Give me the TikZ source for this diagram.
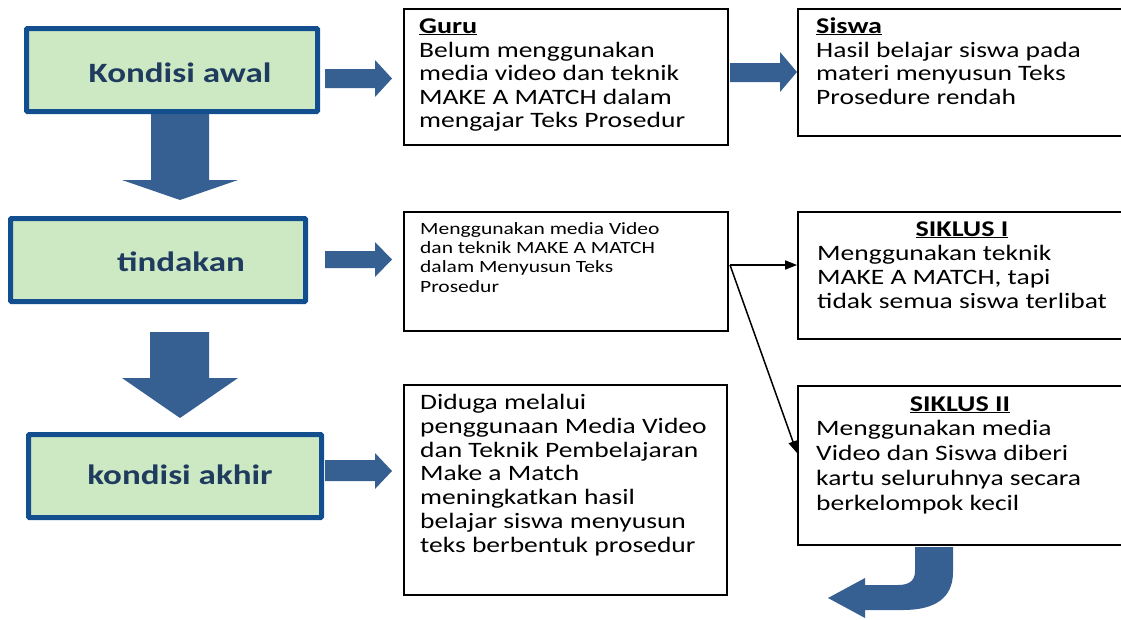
\documentclass[tikz,border=0pt]{standalone}
\usepackage{fontspec}
\setmainfont{Carlito}[FakeStretch=1.25]
\usetikzlibrary{arrows.meta}
\definecolor{boxgreen}{RGB}{205,233,196}
\definecolor{boxblue}{RGB}{19,79,142}
\definecolor{labelblue}{RGB}{31,59,94}
\definecolor{arrowblue}{RGB}{55,96,146}
\begin{document}
\begin{tikzpicture}[x=1pt,y=-1pt,
  stagebox/.style={draw=boxblue,fill=boxgreen,line width=5pt,inner sep=0pt,rounded corners=1pt},
  textbox/.style={draw=black,line width=1.8pt,inner sep=0pt},
  stagelabel/.style={text=labelblue,font={\fontsize{28}{30}\selectfont\bfseries},inner sep=0pt,anchor=base},
  boxtitle/.style={font={\fontsize{22.5}{24}\selectfont\bfseries},inner sep=0pt,anchor=base},
  boxbody/.style={font={\fontsize{22}{23.5}\selectfont},inner sep=0pt,anchor=base west,align=left},
  smallbody/.style={font={\fontsize{17.2}{19.2}\selectfont},inner sep=0pt,anchor=base west,align=left},
  blockarrow/.style={fill=arrowblue,draw=none},
  thinarrow/.style={draw=black,line width=1.5pt,-{Triangle[length=12pt,width=9pt]}}
]
\useasboundingbox (0,0) rectangle (1121,619);

% stage boxes
\node[stagebox,minimum width=291pt,minimum height=83pt] (k1) at (172,70) {};
\node[stagebox,minimum width=295pt,minimum height=83pt] (k2) at (158,260) {};
\node[stagebox,minimum width=293pt,minimum height=83pt] (k3) at (175,476) {};
\node[stagelabel] (k1t) at (180,82) {Kondisi awal};
\node[stagelabel] (k2t) at (181,271) {tindakan};
\node[stagelabel] (k3t) at (180,484) {kondisi akhir};

% text boxes
\node[textbox,minimum width=324pt,minimum height=136pt] (guru) at (566,77) {};
\node[textbox,minimum width=324pt,minimum height=127.5pt] (siswa) at (960,72.5) {};
\node[textbox,minimum width=324pt,minimum height=119pt] (mid) at (566,271.5) {};
\node[textbox,minimum width=324pt,minimum height=127pt] (s1) at (960,275.5) {};
\node[textbox,minimum width=324pt,minimum height=159pt] (s2) at (960,465.5) {};
\node[textbox,minimum width=323pt,minimum height=210pt] (bot) at (565.5,490) {};

% texts (multi-line nodes are placed by the baseline of their last line)
\node[boxtitle,anchor=base west] (gurut) at (419,33) {\underline{Guru}};
\node[boxbody] (gurub) at (419,127.5) {Belum menggunakan\\media video dan teknik\\MAKE A MATCH dalam\\mengajar Teks Prosedur};
\node[boxtitle,anchor=base west] (siswat) at (816,33) {\underline{Siswa}};
\node[boxbody] (siswab) at (816,104) {Hasil belajar siswa pada\\materi menyusun Teks\\Prosedure rendah};
\node[smallbody] (midb) at (420,292) {Menggunakan media Video\\dan teknik MAKE A MATCH\\dalam Menyusun Teks\\Prosedur};
\node[boxtitle] (s1t) at (962,236) {\underline{SIKLUS I}};
\node[boxbody,font={\fontsize{22}{24}\selectfont}] (s1b) at (817,308) {Menggunakan teknik\\MAKE A MATCH, tapi\\tidak semua siswa terlibat};
\node[boxtitle] (s2t) at (960,411) {\underline{SIKLUS II}};
\node[boxbody,font={\fontsize{22}{25}\selectfont}] (s2b) at (816,510) {Menggunakan media\\Video dan Siswa diberi\\kartu seluruhnya secara\\berkelompok kecil};
\node[boxbody,font={\fontsize{22}{23.7}\selectfont}] (botb) at (420,552) {Diduga melalui\\penggunaan Media Video\\dan Teknik Pembelajaran\\Make a Match\\meningkatkan hasil\\belajar siswa menyusun\\teks berbentuk prosedur};

% block arrows: down
\path[blockarrow] (151,114) -- (209,114) -- (209,180) -- (238,180) -- (180,200) -- (122,180) -- (151,180) -- cycle;
\path[blockarrow] (150,332) -- (209,332) -- (209,378) -- (238,378) -- (180,418) -- (122,378) -- (150,378) -- cycle;
% block arrows: right
\path[blockarrow] (325,69) -- (375,69) -- (375,60) -- (392,78.5) -- (375,97) -- (375,88) -- (325,88) -- cycle;
\path[blockarrow] (325,251) -- (375,251) -- (375,242) -- (392,259.5) -- (375,277) -- (375,268) -- (325,268) -- cycle;
\path[blockarrow] (325,460) -- (375,460) -- (375,453) -- (392,471) -- (375,489) -- (375,481) -- (325,481) -- cycle;
\path[blockarrow] (730,63) -- (780,63) -- (780,52) -- (797,72) -- (780,92) -- (780,82) -- (730,82) -- cycle;
% curved arrow
\path[blockarrow] (915,547) -- (915,571) .. controls (915,580) and (910,585) .. (898,585)
  -- (865,585) -- (865,578) -- (828,598) -- (865,618) -- (865,610) -- (903,610)
  .. controls (935,610) and (953,598) .. (953,572) -- (953,547) -- cycle;

% thin connectors
\coordinate (split) at (730,265);
\coordinate (s2in) at (797,453);
\draw[thinarrow] (split) -- (s1.west |- split);
\draw[thinarrow] (split) -- (s2in);
\end{tikzpicture}
\end{document}
